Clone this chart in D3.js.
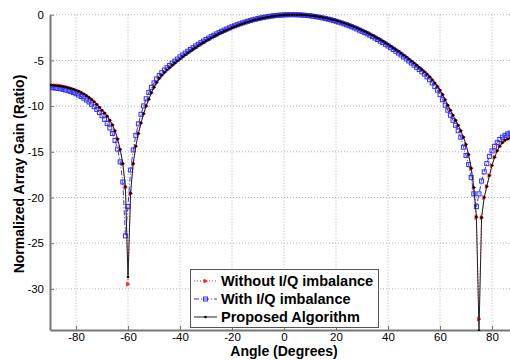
<!DOCTYPE html>
<html>
<head>
<meta charset="utf-8">
<script src="https://d3js.org/d3.v7.min.js"></script>
<style>
  html, body { margin: 0; padding: 0; background: #fff; }
  svg { display: block; font-family: 'Liberation Sans', Arial, sans-serif; }
</style>
</head>
<body>
<div id="vis"></div>
<script>
// sampling angles (degrees)
var angles = [
  -90,-89,-88,-87,-86,-85,-84,-83,-82,-81,-80,-79,-78,-77,-76,-75,-74,-73,-72,-71,
  -70,-69,-68,-67,-66,-65,-64,-63,-62,-61,-60,-59,-58,-57,-56,-55,-54,-53,-52,-51,
  -50,-49,-48,-47,-46,-45,-44,-43,-42,-41,-40,-39,-38,-37,-36,-35,-34,-33,-32,-31,
  -30,-29,-28,-27,-26,-25,-24,-23,-22,-21,-20,-19,-18,-17,-16,-15,-14,-13,-12,-11,
  -10,-9,-8,-7,-6,-5,-4,-3,-2,-1,0,1,2,3,4,5,6,7,8,9,
  10,11,12,13,14,15,16,17,18,19,20,21,22,23,24,25,26,27,28,29,
  30,31,32,33,34,35,36,37,38,39,40,41,42,43,44,45,46,47,48,49,
  50,51,52,53,54,55,56,57,58,59,60,61,62,63,64,65,66,67,68,69,
  70,71,72,73,74,75,76,77,78,79,80,81,82,83,84,85,86,87,88,89,90
];

// Without I/Q imbalance
var gainNoIQ = [
  -7.70,-7.72,-7.74,-7.77,-7.81,-7.86,-7.92,-7.99,-8.07,-8.16,
  -8.26,-8.38,-8.52,-8.68,-8.86,-9.06,-9.28,-9.53,-9.81,-10.12,
  -10.45,-10.75,-11.10,-11.55,-12.05,-12.70,-13.60,-14.75,-16.30,-18.90,
  -29.50,-19.60,-16.30,-14.40,-13.00,-11.85,-10.85,-10.00,-9.25,-8.55,
  -7.95,-7.42,-6.97,-6.62,-6.32,-6.05,-5.80,-5.55,-5.30,-5.06,
  -4.84,-4.62,-4.41,-4.20,-4.00,-3.80,-3.61,-3.42,-3.24,-3.06,
  -2.89,-2.72,-2.56,-2.40,-2.25,-2.10,-1.96,-1.82,-1.69,-1.56,
  -1.44,-1.32,-1.21,-1.10,-1.00,-0.90,-0.81,-0.72,-0.64,-0.56,
  -0.49,-0.42,-0.36,-0.30,-0.25,-0.20,-0.16,-0.12,-0.09,-0.06,
  -0.04,-0.02,-0.01,0.00,0.00,0.00,-0.01,-0.02,-0.04,-0.06,
  -0.09,-0.12,-0.16,-0.20,-0.25,-0.30,-0.36,-0.42,-0.49,-0.56,
  -0.64,-0.72,-0.81,-0.90,-1.00,-1.10,-1.21,-1.32,-1.44,-1.56,
  -1.69,-1.82,-1.96,-2.10,-2.25,-2.40,-2.56,-2.72,-2.89,-3.06,
  -3.24,-3.42,-3.61,-3.80,-4.00,-4.20,-4.41,-4.62,-4.84,-5.06,
  -5.29,-5.52,-5.76,-6.00,-6.25,-6.50,-6.80,-7.12,-7.47,-7.85,
  -8.25,-8.75,-9.30,-9.90,-10.45,-11.00,-11.55,-12.10,-12.70,-13.40,
  -14.20,-15.30,-16.80,-18.90,-22.20,-33.30,-22.20,-20.00,-18.80,-17.60,
  -16.50,-15.60,-14.90,-14.40,-14.00,-13.75,-13.60,-13.50,-13.45,-13.42,
  -13.40
];

// With I/Q imbalance
var gainWithIQ = [
  -7.96,-7.99,-8.02,-8.06,-8.11,-8.17,-8.24,-8.32,-8.41,-8.52,
  -8.65,-8.79,-8.95,-9.13,-9.33,-9.55,-9.80,-10.07,-10.37,-10.70,
  -11.05,-11.45,-11.90,-12.40,-13.00,-13.75,-14.70,-16.10,-18.30,-24.20,
  -21.00,-17.00,-14.80,-13.20,-11.95,-10.90,-9.98,-9.20,-8.52,-7.95,
  -7.46,-7.03,-6.66,-6.34,-6.06,-5.80,-5.55,-5.31,-5.08,-4.86,
  -4.62,-4.41,-4.20,-4.00,-3.80,-3.61,-3.42,-3.24,-3.06,-2.89,
  -2.72,-2.56,-2.40,-2.25,-2.10,-1.96,-1.82,-1.69,-1.56,-1.44,
  -1.32,-1.21,-1.10,-1.00,-0.90,-0.81,-0.72,-0.64,-0.56,-0.49,
  -0.42,-0.36,-0.30,-0.25,-0.20,-0.16,-0.12,-0.09,-0.06,-0.04,
  -0.02,-0.01,0.00,0.00,0.00,-0.01,-0.02,-0.04,-0.06,-0.09,
  -0.12,-0.16,-0.20,-0.25,-0.30,-0.36,-0.42,-0.49,-0.56,-0.64,
  -0.72,-0.81,-0.90,-1.00,-1.10,-1.21,-1.32,-1.44,-1.56,-1.69,
  -1.82,-1.96,-2.10,-2.25,-2.40,-2.56,-2.72,-2.89,-3.06,-3.24,
  -3.42,-3.61,-3.80,-4.00,-4.20,-4.41,-4.62,-4.84,-5.06,-5.29,
  -5.52,-5.76,-6.00,-6.25,-6.50,-6.80,-7.12,-7.47,-7.85,-8.25,
  -8.75,-9.30,-9.90,-10.45,-11.00,-11.55,-12.10,-12.70,-13.40,-14.50,
  -15.40,-16.40,-17.80,-19.60,-21.00,-19.60,-18.20,-17.20,-16.30,-15.50,
  -14.90,-14.40,-14.00,-13.65,-13.40,-13.20,-13.05,-12.95,-12.90,-12.85,
  -12.80
];

// Proposed Algorithm
var gainProposed = [
  -7.70,-7.72,-7.74,-7.77,-7.81,-7.86,-7.92,-7.99,-8.07,-8.16,
  -8.26,-8.38,-8.52,-8.68,-8.86,-9.06,-9.28,-9.53,-9.81,-10.12,
  -10.45,-10.75,-11.10,-11.55,-12.05,-12.70,-13.60,-14.75,-16.30,-18.80,
  -28.70,-19.50,-16.30,-14.40,-13.00,-11.85,-10.85,-10.00,-9.25,-8.55,
  -7.95,-7.42,-6.97,-6.62,-6.32,-6.05,-5.80,-5.55,-5.30,-5.06,
  -4.84,-4.62,-4.41,-4.20,-4.00,-3.80,-3.61,-3.42,-3.24,-3.06,
  -2.89,-2.72,-2.56,-2.40,-2.25,-2.10,-1.96,-1.82,-1.69,-1.56,
  -1.44,-1.32,-1.21,-1.10,-1.00,-0.90,-0.81,-0.72,-0.64,-0.56,
  -0.49,-0.42,-0.36,-0.30,-0.25,-0.20,-0.16,-0.12,-0.09,-0.06,
  -0.04,-0.02,-0.01,0.00,0.00,0.00,-0.01,-0.02,-0.04,-0.06,
  -0.09,-0.12,-0.16,-0.20,-0.25,-0.30,-0.36,-0.42,-0.49,-0.56,
  -0.64,-0.72,-0.81,-0.90,-1.00,-1.10,-1.21,-1.32,-1.44,-1.56,
  -1.69,-1.82,-1.96,-2.10,-2.25,-2.40,-2.56,-2.72,-2.89,-3.06,
  -3.24,-3.42,-3.61,-3.80,-4.00,-4.20,-4.41,-4.62,-4.84,-5.06,
  -5.29,-5.52,-5.76,-6.00,-6.25,-6.50,-6.80,-7.12,-7.47,-7.85,
  -8.25,-8.75,-9.30,-9.90,-10.45,-11.00,-11.55,-12.10,-12.70,-13.40,
  -14.20,-15.30,-16.80,-18.90,-22.10,-34.60,-22.20,-20.00,-18.80,-17.60,
  -16.50,-15.60,-14.90,-14.40,-14.00,-13.75,-13.60,-13.50,-13.45,-13.42,
  -13.40
];

var xTicks = [-80, -60, -40, -20, 0, 20, 40, 60, 80];
var yTicks = [0, -5, -10, -15, -20, -25, -30];
var legendLabels = ['Without I/Q imbalance', 'With I/Q imbalance', 'Proposed Algorithm'];

var W = 510, H = 360;
var svg = d3.select('#vis').append('svg').attr('width', W).attr('height', H);

var x = d3.scaleLinear().domain([-90, 90]).range([50, 518]);
var y = d3.scaleLinear().domain([-34.5, 0]).range([330, 14.7]);

// grid
svg.append('g').selectAll('line').data(xTicks).enter().append('line')
    .attr('x1', d => x(d)).attr('x2', d => x(d))
    .attr('y1', y(0)).attr('y2', y(-34.5))
    .attr('stroke', '#b4b4b4').attr('stroke-dasharray', '1,2');
svg.append('g').selectAll('line').data(yTicks).enter().append('line')
    .attr('x1', 50).attr('x2', W)
    .attr('y1', d => y(d)).attr('y2', d => y(d))
    .attr('stroke', '#b4b4b4').attr('stroke-dasharray', '1,2');

// axes (plain hyphen minus, like the original)
var fmt = d => String(d);
var xAxis = svg.append('g').attr('transform', 'translate(0,' + y(-34.5) + ')')
    .call(d3.axisBottom(x).tickValues(xTicks).tickFormat(fmt).tickSizeInner(-4).tickSizeOuter(0).tickPadding(3));
var yAxis = svg.append('g').attr('transform', 'translate(50,0)')
    .call(d3.axisLeft(y).tickValues(yTicks).tickFormat(fmt).tickSizeInner(-4).tickSizeOuter(0).tickPadding(6));
[xAxis, yAxis].forEach(function(a) {
    a.select('.domain').attr('stroke', '#777').attr('stroke-width', 2);
    a.selectAll('.tick line').attr('stroke', '#777');
    a.selectAll('.tick text').attr('font-size', 11.5).attr('fill', '#000')
        .attr('font-family', "'Liberation Sans', Arial, sans-serif");
});

svg.append('defs').append('clipPath').attr('id', 'plotclip')
    .append('rect').attr('x', 50).attr('y', 0).attr('width', W - 50).attr('height', 331);

var plot = svg.append('g').attr('clip-path', 'url(#plotclip)');

var series = [
  {name: legendLabels[0], values: gainNoIQ, color: '#ff2020', dash: '1,2', marker: 'tri'},
  {name: legendLabels[1], values: gainWithIQ, color: '#3030ff', dash: '5,2,1,2', marker: 'sq'},
  {name: legendLabels[2], values: gainProposed, color: '#222', dash: null, marker: 'dot'}
];

var line = d3.line().x(d => x(d[0])).y(d => y(d[1]));

function drawMarker(g, kind, color, px, py) {
    if (kind === 'tri') {
        g.append('path').attr('d', 'M' + (px - 1.6) + ',' + (py - 2) + 'L' + (px + 2) + ',' + py + 'L' + (px - 1.6) + ',' + (py + 2) + 'Z')
            .attr('fill', color).attr('stroke', color).attr('stroke-width', 0.6);
    } else if (kind === 'sq') {
        g.append('rect').attr('x', px - 2).attr('y', py - 2).attr('width', 4).attr('height', 4)
            .attr('fill', 'none').attr('stroke', color).attr('stroke-width', 1);
    } else {
        g.append('circle').attr('cx', px).attr('cy', py).attr('r', 1.3).attr('fill', '#000');
    }
}

series.forEach(function(s) {
    var pts = angles.map((a, i) => [a, s.values[i]]);
    var g = plot.append('g');
    g.append('path').datum(pts).attr('d', line)
        .attr('fill', 'none').attr('stroke', s.color).attr('stroke-width', 1)
        .attr('stroke-dasharray', s.dash);
    pts.forEach(function(p) { drawMarker(g, s.marker, s.color, x(p[0]), y(p[1])); });
});

// axis labels
svg.append('text').attr('x', x(0)).attr('y', 356).attr('text-anchor', 'middle')
    .attr('font-size', 14).attr('font-weight', 'bold').text('Angle (Degrees)');
svg.append('text').attr('transform', 'translate(24,174) rotate(-90)').attr('text-anchor', 'middle')
    .attr('font-size', 14).attr('font-weight', 'bold').text('Normalized Array Gain (Ratio)');

// legend
var lg = svg.append('g');
lg.append('rect').attr('x', 190.5).attr('y', 269.5).attr('width', 188).attr('height', 58)
    .attr('fill', '#fff').attr('stroke', '#555').attr('stroke-width', 1);
series.forEach(function(s, i) {
    var ly = 281 + i * 18;
    lg.append('line').attr('x1', 194).attr('x2', 217).attr('y1', ly).attr('y2', ly)
        .attr('stroke', s.color).attr('stroke-width', 1).attr('stroke-dasharray', s.dash);
    drawMarker(lg, s.marker, s.color, 205.5, ly);
    lg.append('text').attr('x', 221).attr('y', ly).attr('dy', '0.35em')
        .attr('font-size', 14.5).attr('font-weight', 'bold').text(s.name);
});
</script>
</body>
</html>
